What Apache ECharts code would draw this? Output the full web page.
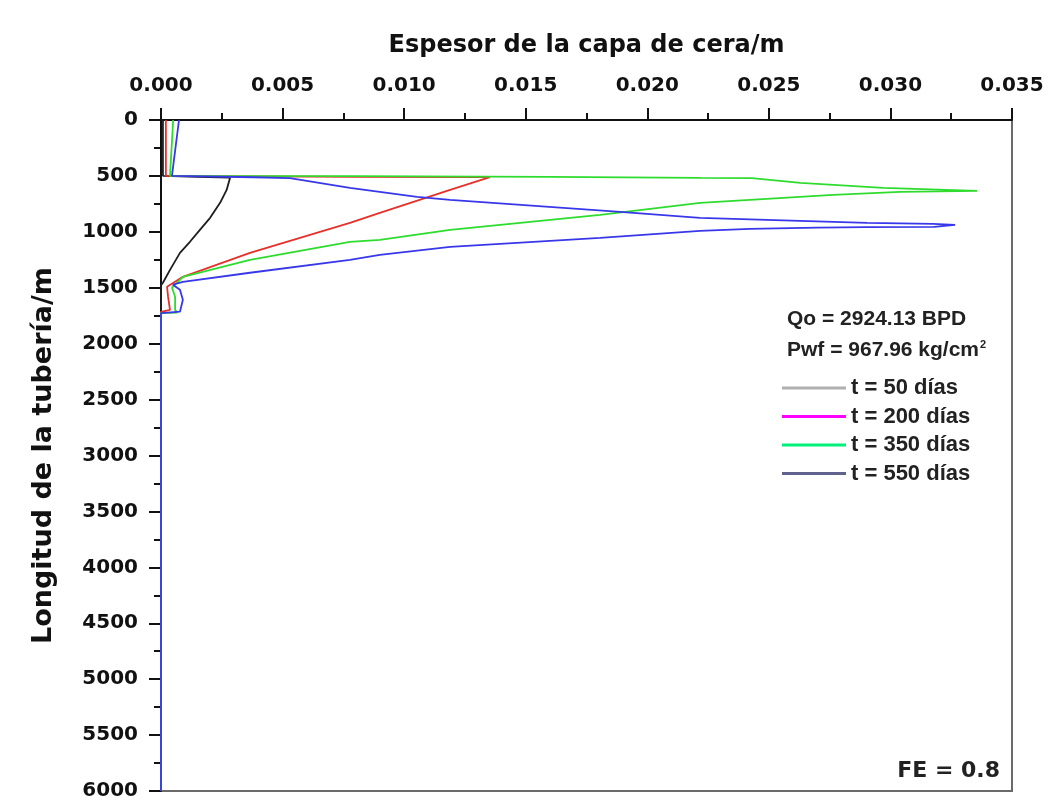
<!DOCTYPE html>
<html>
<head>
<meta charset="utf-8">
<script src="https://cdn.jsdelivr.net/npm/echarts@6/dist/echarts.min.js"></script>
<style>html,body{margin:0;padding:0;background:#fff}#c{width:1050px;height:802px}</style>
</head>
<body>
<div id="c"></div>
<script>
// Wax layer thickness (m) vs pipe length (m)
const seriesNames = ['t = 50 días', 't = 200 días', 't = 350 días', 't = 550 días'];

const t50Thick = [0.00008, 0.00008, 0.0015, 0.00284, 0.0027, 0.00243, 0.00202, 0.0016, 0.00119, 0.00078, 0.00037, 0.00008, 0, 0];
const t50Depth = [0, 500, 508, 516, 625, 741, 875, 982, 1089, 1188, 1340, 1455, 1478, 6000];

const t200Thick = [0.0002, 0.0002, 0.008, 0.01353, 0.01189, 0.009, 0.00777, 0.00366, 0.0009, 0.00025, 0.00029, 0.00037, 0, 0];
const t200Depth = [0, 500, 508, 510, 625, 830, 920, 1188, 1402, 1491, 1580, 1697, 1715, 6000];

const t350Thick = [0.0005, 0.00037, 0.008, 0.016, 0.0222, 0.0243, 0.0263, 0.0297, 0.03356, 0.0304, 0.02764, 0.02422, 0.02217, 0.01806, 0.01189, 0.009, 0.00777, 0.00366, 0.0009, 0.00045, 0.00058, 0.00058, 0.00066, 0, 0];
const t350Depth = [0, 500, 502, 508, 518, 520, 563, 607, 634, 643, 670, 714, 741, 848, 982, 1072, 1089, 1250, 1402, 1500, 1580, 1697, 1723, 1726, 6000];

const t550Thick = [0.00074, 0.00045, 0.0038, 0.0053, 0.00777, 0.01053, 0.01189, 0.01888, 0.02217, 0.02628, 0.02904, 0.03175, 0.03266, 0.0318, 0.029, 0.027, 0.02422, 0.02217, 0.01806, 0.01189, 0.009, 0.00777, 0.00366, 0.0009, 0.00049, 0.00078, 0.0009, 0.00078, 0.0007, 0, 0];
const t550Depth = [0, 500, 512, 520, 607, 688, 714, 822, 875, 902, 920, 929, 938, 955, 958, 962, 973, 991, 1054, 1134, 1206, 1250, 1366, 1447, 1473, 1518, 1607, 1714, 1723, 1726, 6000];

const xTicks = [0, 0.005, 0.01, 0.015, 0.02, 0.025, 0.03, 0.035];
const yTicks = [0, 500, 1000, 1500, 2000, 2500, 3000, 3500, 4000, 4500, 5000, 5500, 6000];

const lineColors = ['#1e1e1e', '#e8302a', '#2edc2e', '#3838ea'];
const legendColors = ['#b0b0b0', '#ff00ff', '#00f07a', '#62628f'];

function pairs(xs, ys) { return xs.map((x, i) => [x, ys[i]]); }
const allData = [pairs(t50Thick, t50Depth), pairs(t200Thick, t200Depth), pairs(t350Thick, t350Depth), pairs(t550Thick, t550Depth)];

const chart = echarts.init(document.getElementById('c'), null, { renderer: 'canvas' });
const axisFont = 'DejaVu Sans';
chart.setOption({
  animation: false,
  backgroundColor: '#ffffff',
  grid: { left: 161, right: 38, top: 120, bottom: 11, show: true, borderColor: '#6a6a6a', borderWidth: 2, backgroundColor: 'transparent' },
  xAxis: {
    type: 'value', position: 'top', min: xTicks[0], max: xTicks[xTicks.length - 1], interval: 0.005,
    name: 'Espesor de la capa de cera/m', nameLocation: 'middle', nameGap: 62,
    nameTextStyle: { fontFamily: axisFont, fontWeight: 'bold', fontSize: 24, color: '#111' },
    axisLine: { show: true, lineStyle: { color: '#111', width: 2 } },
    axisTick: { show: true, inside: false, length: 12, lineStyle: { color: '#111', width: 2 } },
    minorTick: { show: true, splitNumber: 2, length: 7, lineStyle: { color: '#111', width: 2 } },
    splitLine: { show: false },
    axisLabel: { margin: 24, fontFamily: axisFont, fontWeight: 'bold', fontSize: 20, color: '#111', formatter: v => v.toFixed(3) }
  },
  yAxis: {
    type: 'value', inverse: true, min: yTicks[0], max: yTicks[yTicks.length - 1], interval: 500,
    name: 'Longitud de la tubería/m', nameLocation: 'middle', nameGap: 104, nameRotate: 90,
    nameTextStyle: { fontFamily: axisFont, fontWeight: 'bold', fontSize: 27, color: '#111' },
    axisLine: { show: true, lineStyle: { color: '#111', width: 2 } },
    axisTick: { show: true, inside: false, length: 12, lineStyle: { color: '#111', width: 2 } },
    minorTick: { show: true, splitNumber: 2, length: 7, lineStyle: { color: '#111', width: 2 } },
    splitLine: { show: false },
    axisLabel: { margin: 23, fontFamily: axisFont, fontWeight: 'bold', fontSize: 20, color: '#111', formatter: v => String(v) }
  },
  legend: {
    orient: 'vertical', left: 777, top: 372, itemWidth: 64, itemHeight: 22, itemGap: 6.5,
    icon: 'rect',
    textStyle: { fontFamily: 'Liberation Sans', fontWeight: 'bold', fontSize: 22, color: '#222', lineHeight: 22 },
    data: seriesNames.map((n, i) => ({ name: n, icon: 'path://M0,10 L64,10 L64,13 L0,13 Z', itemStyle: { color: legendColors[i] } }))
  },
  graphic: [
    { type: 'text', x: 787, y: 319, style: { text: 'Qo = 2924.13 BPD', fill: '#222', font: 'bold 21px "Liberation Sans"', textAlign: 'left', textVerticalAlign: 'middle' } },
    { type: 'text', x: 787, y: 350, style: { text: 'Pwf = 967.96 kg/cm{sup|2}', fill: '#222', font: 'bold 21px "Liberation Sans"', textAlign: 'left', textVerticalAlign: 'middle',
      rich: { sup: { font: 'bold 11px "Liberation Sans"', fill: '#222', verticalAlign: 'top', padding: [0, 0, 8, 1] } } } },
    { type: 'text', x: 1000, y: 771, style: { text: 'FE = 0.8', fill: '#222', font: 'bold 22px "DejaVu Sans"', textAlign: 'right', textVerticalAlign: 'middle' } }
  ],
  series: allData.map((d, i) => ({
    name: seriesNames[i], type: 'line', data: d, showSymbol: false, symbol: 'none',
    lineStyle: { color: lineColors[i], width: 1.8 }, itemStyle: { color: lineColors[i] }, z: 3 + i
  }))
});
</script>
</body>
</html>
